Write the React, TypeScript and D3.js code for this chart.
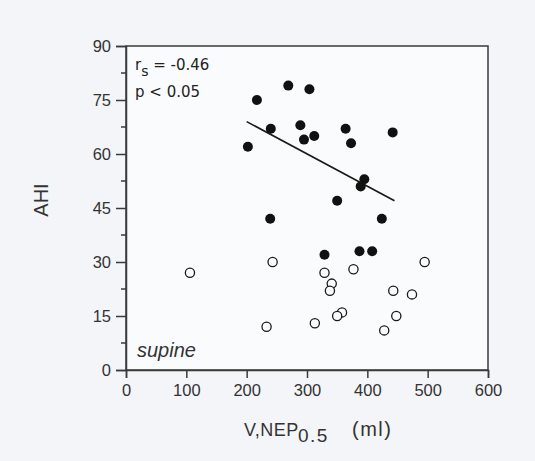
import {useEffect, useRef} from "react";
import * as d3 from "d3";

// supine, rs = -0.46 group (filled) and others (open)
const filledX = [269, 304, 217, 240, 289, 312, 295, 364, 373, 442, 202, 395, 389, 350, 239, 424, 329, 387, 408];
const filledY = [79, 78, 75, 67, 68, 65, 64, 67, 63, 66, 62, 53, 51, 47, 42, 42, 32, 33, 33];
const openX = [106, 243, 495, 329, 377, 341, 338, 443, 474, 358, 350, 448, 313, 233, 428];
const openY = [27, 30, 30, 27, 28, 24, 22, 22, 21, 16, 15, 15, 13, 12, 11];
const fitX = [200, 445];
const fitY = [69, 47];
const xTicks = [0, 100, 200, 300, 400, 500, 600];
const yTicks = [0, 15, 30, 45, 60, 75, 90];
const yMinorTicks = [7.5, 22.5, 37.5, 52.5, 67.5, 82.5];

const width = 535;
const height = 461;

const App = () => {
    const svgRef = useRef<SVGSVGElement | null>(null);

    useEffect(() => {
        const svg = d3.select(svgRef.current);
        svg.selectAll("*").remove();

        const x = d3.scaleLinear().domain([0, 600]).range([126, 488]);
        const y = d3.scaleLinear().domain([0, 90]).range([370, 46]);
        const axisColor = "#3a3a3a";
        const font = "Arial, 'Liberation Sans', sans-serif";
        const annFont = "'DejaVu Sans', Verdana, sans-serif";

        svg.append("rect")
            .attr("width", width)
            .attr("height", height)
            .attr("fill", "#f4f5f8");

        // frame
        svg.append("rect")
            .attr("x", x(0))
            .attr("y", y(90))
            .attr("width", x(600) - x(0))
            .attr("height", y(0) - y(90))
            .attr("fill", "#fafbfc")
            .attr("stroke", axisColor)
            .attr("stroke-width", 1.5);

        const xAxis = svg.append("g")
            .attr("transform", `translate(0,${y(0)})`)
            .call(d3.axisBottom(x).tickValues(xTicks).tickSize(8).tickPadding(6).tickFormat(d3.format("d")));
        xAxis.select(".domain").attr("stroke", axisColor).attr("stroke-width", 1.5);
        xAxis.selectAll(".tick line").attr("stroke", axisColor).attr("stroke-width", 1.5);
        xAxis.selectAll(".tick text")
            .attr("font-family", font)
            .attr("font-size", 16.5)
            .attr("fill", "#333");

        const yAxis = svg.append("g")
            .attr("transform", `translate(${x(0)},0)`)
            .call(d3.axisLeft(y).tickValues(yTicks).tickSize(10).tickPadding(5).tickFormat(d3.format("d")));
        yAxis.select(".domain").attr("stroke", axisColor).attr("stroke-width", 1.5);
        yAxis.selectAll(".tick line").attr("stroke", axisColor).attr("stroke-width", 1.5);
        yAxis.selectAll(".tick text")
            .attr("font-family", font)
            .attr("font-size", 16.5)
            .attr("fill", "#333");

        svg.append("g")
            .selectAll("line")
            .data(yMinorTicks)
            .enter()
            .append("line")
            .attr("x1", x(0) - 5)
            .attr("x2", x(0))
            .attr("y1", d => y(d))
            .attr("y2", d => y(d))
            .attr("stroke", axisColor)
            .attr("stroke-width", 1.5);

        // regression line
        svg.append("line")
            .attr("x1", x(fitX[0]))
            .attr("y1", y(fitY[0]))
            .attr("x2", x(fitX[1]))
            .attr("y2", y(fitY[1]))
            .attr("stroke", "#1a1a1a")
            .attr("stroke-width", 1.6);

        svg.append("g")
            .selectAll("circle")
            .data(openX.map((v, i) => [v, openY[i]]))
            .enter()
            .append("circle")
            .attr("cx", d => x(d[0]))
            .attr("cy", d => y(d[1]))
            .attr("r", 4.6)
            .attr("fill", "#fafbfc")
            .attr("stroke", "#1a1a1a")
            .attr("stroke-width", 1.3);

        svg.append("g")
            .selectAll("circle")
            .data(filledX.map((v, i) => [v, filledY[i]]))
            .enter()
            .append("circle")
            .attr("cx", d => x(d[0]))
            .attr("cy", d => y(d[1]))
            .attr("r", 5)
            .attr("fill", "#111");

        // annotations
        const rs = svg.append("text")
            .attr("x", x(0) + 9)
            .attr("y", 70)
            .attr("font-family", annFont)
            .attr("font-size", 15)
            .attr("fill", "#222");
        rs.append("tspan").text("r");
        rs.append("tspan").attr("dy", 6).attr("font-size", 14).text("s");
        rs.append("tspan").attr("dy", -6).text(" = -0.46");

        svg.append("text")
            .attr("x", x(0) + 9)
            .attr("y", 97)
            .attr("font-family", annFont)
            .attr("font-size", 15)
            .attr("fill", "#222")
            .text("p < 0.05");

        svg.append("text")
            .attr("x", x(0) + 11)
            .attr("y", 357)
            .attr("font-family", font)
            .attr("font-size", 20)
            .attr("font-style", "italic")
            .attr("fill", "#333")
            .text("supine");

        // axis titles
        const xt = svg.append("text")
            .attr("y", 436)
            .attr("font-family", font)
            .attr("font-size", 18)
            .attr("fill", "#333");
        xt.append("tspan").attr("x", 244).attr("letter-spacing", 0.5).text("V,NEP");
        xt.append("tspan").attr("x", 298).attr("dy", 6).attr("font-size", 19).attr("letter-spacing", 1.5).text("0.5");
        xt.append("tspan").attr("x", 352).attr("dy", -6).attr("font-size", 20).attr("letter-spacing", 1.5).text("(ml)");

        svg.append("text")
            .attr("transform", `translate(48,200) rotate(-90)`)
            .attr("text-anchor", "middle")
            .attr("font-family", font)
            .attr("font-size", 20)
            .attr("fill", "#333")
            .text("AHI");
    }, []);

    return <svg ref={svgRef} width={width} height={height} style={{position: "absolute", left: 0, top: 0}}></svg>;
};

export default App;
